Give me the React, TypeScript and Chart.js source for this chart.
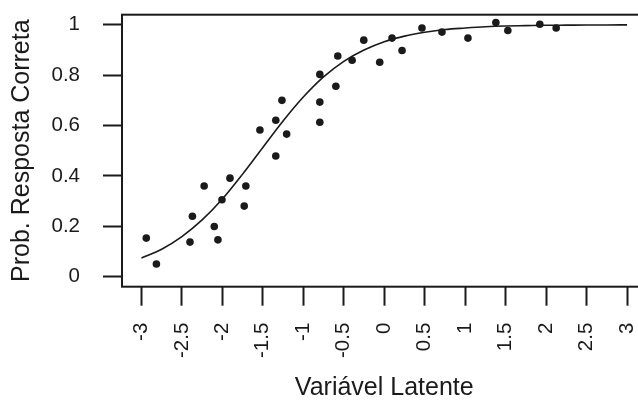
import React, { useEffect, useRef } from "react";
import { Chart, registerables } from "chart.js";

Chart.register(...registerables);

// Observed points
const pointX = [
  -2.94, -2.815, -2.4, -2.37, -2.225, -2.1, -2.055, -2.005, -1.906, -1.71, -1.73,
  -1.536, -1.34, -1.264, -1.34, -1.206, -0.796, -0.796, -0.796, -0.598, -0.574,
  -0.397, -0.253, -0.056, 0.096, 0.22, 0.466, 0.713, 1.034, 1.379, 1.527, 1.922, 2.124,
];
const pointY = [
  0.153, 0.05, 0.137, 0.24, 0.36, 0.199, 0.146, 0.305, 0.391, 0.36, 0.28,
  0.582, 0.621, 0.7, 0.479, 0.566, 0.803, 0.693, 0.613, 0.756, 0.876,
  0.859, 0.939, 0.851, 0.947, 0.898, 0.987, 0.971, 0.947, 1.009, 0.977, 1.002, 0.987,
];

// Fitted curve
const curveX = [
  -3, -2.75, -2.5, -2.25, -2, -1.75, -1.5, -1.25, -1, -0.75, -0.5, -0.25, 0,
  0.25, 0.5, 0.75, 1, 1.25, 1.5, 1.75, 2, 2.25, 2.5, 2.75, 3,
];
const curveY = [
  0.074, 0.109, 0.159, 0.225, 0.308, 0.407, 0.513, 0.618, 0.713, 0.793, 0.855, 0.9, 0.933,
  0.955, 0.97, 0.981, 0.987, 0.992, 0.995, 0.9965, 0.998, 0.9985, 0.999, 0.9994, 0.9996,
];

const xTicks = [-3, -2.5, -2, -1.5, -1, -0.5, 0, 0.5, 1, 1.5, 2, 2.5, 3];
const xTickLabels = ["-3", "-2.5", "-2", "-1.5", "-1", "-0.5", "0", "0.5", "1", "1.5", "2", "2.5", "3"];
const yTicks = [0, 0.2, 0.4, 0.6, 0.8, 1];
const yTickLabels = ["0", "0.2", "0.4", "0.6", "0.8", "1"];
const xTitle = "Variável Latente";
const yTitle = "Prob. Resposta Correta";

const FONT = "'Liberation Sans', Arial, sans-serif";
const INK = "#1a1a1a";

export default function App() {
  const ref = useRef<HTMLCanvasElement | null>(null);

  useEffect(() => {
    if (!ref.current) return;
    const boxPlugin = {
      id: "box",
      afterDatasetsDraw(chart: any) {
        const { ctx, chartArea } = chart;
        ctx.save();
        ctx.strokeStyle = INK;
        ctx.lineWidth = 2;
        ctx.strokeRect(chartArea.left, chartArea.top, chartArea.right - chartArea.left, chartArea.bottom - chartArea.top);
        ctx.restore();
      },
    };
    const chart = new Chart(ref.current, {
      type: "scatter",
      data: {
        datasets: [
          {
            label: "points",
            data: pointX.map((x, i) => ({ x, y: pointY[i] })),
            backgroundColor: INK,
            borderColor: INK,
            pointRadius: 3.8,
            pointBorderWidth: 0,
            showLine: false,
          },
          {
            label: "curve",
            type: "line",
            data: curveX.map((x, i) => ({ x, y: curveY[i] })),
            borderColor: INK,
            borderWidth: 1.6,
            pointRadius: 0,
            fill: false,
            cubicInterpolationMode: "monotone",
          } as any,
        ],
      },
      options: {
        animation: false,
        responsive: false,
        maintainAspectRatio: false,
        events: [],
        layout: { padding: { top: 14.7, right: 13.5, left: 0, bottom: 0 } },
        plugins: { legend: { display: false }, tooltip: { enabled: false } },
        scales: {
          x: {
            type: "linear",
            min: -3.24,
            max: 3.24,
            afterBuildTicks: (scale: any) => {
              scale.ticks = xTicks.map((v) => ({ value: v }));
            },
            afterFit: (scale: any) => {
              scale.height = 403 - 286.7;
              scale.paddingLeft = 0;
              scale.paddingRight = 0;
            },
            grid: {
              drawOnChartArea: false,
              drawTicks: true,
              tickLength: 19,
              tickWidth: 2,
              tickColor: INK,
            },
            border: { display: false },
            ticks: {
              autoSkip: false,
              minRotation: 90,
              maxRotation: 90,
              padding: 17,
              color: INK,
              font: { family: FONT, size: 20.5 },
              callback: (_v: any, i: number) => xTickLabels[i],
            },
            title: {
              display: true,
              text: xTitle,
              color: INK,
              font: { family: FONT, size: 25 },
              padding: { top: 0, bottom: 0 },
            },
          },
          y: {
            type: "linear",
            min: -0.04,
            max: 1.04,
            afterBuildTicks: (scale: any) => {
              scale.ticks = yTicks.map((v) => ({ value: v }));
            },
            afterFit: (scale: any) => {
              scale.width = 122;
              scale.paddingTop = 0;
              scale.paddingBottom = 0;
            },
            grid: {
              drawOnChartArea: false,
              drawTicks: true,
              tickLength: 19,
              tickWidth: 2,
              tickColor: INK,
            },
            border: { display: false },
            ticks: {
              autoSkip: false,
              padding: 23,
              color: INK,
              font: { family: FONT, size: 20.5 },
              callback: (_v: any, i: number) => yTickLabels[i],
            },
            title: {
              display: true,
              text: yTitle,
              color: INK,
              font: { family: FONT, size: 25 },
              padding: { top: 7.5, bottom: 0 },
            },
          },
        },
      },
      plugins: [boxPlugin],
    });
    return () => chart.destroy();
  }, []);

  return (
    <div
      style={{
        position: "fixed",
        left: 0,
        top: 0,
        width: 638,
        height: 403,
        overflow: "hidden",
        background: "#fff",
      }}
    >
      <canvas ref={ref} width={660} height={403} style={{ display: "block" }} />
    </div>
  );
}
